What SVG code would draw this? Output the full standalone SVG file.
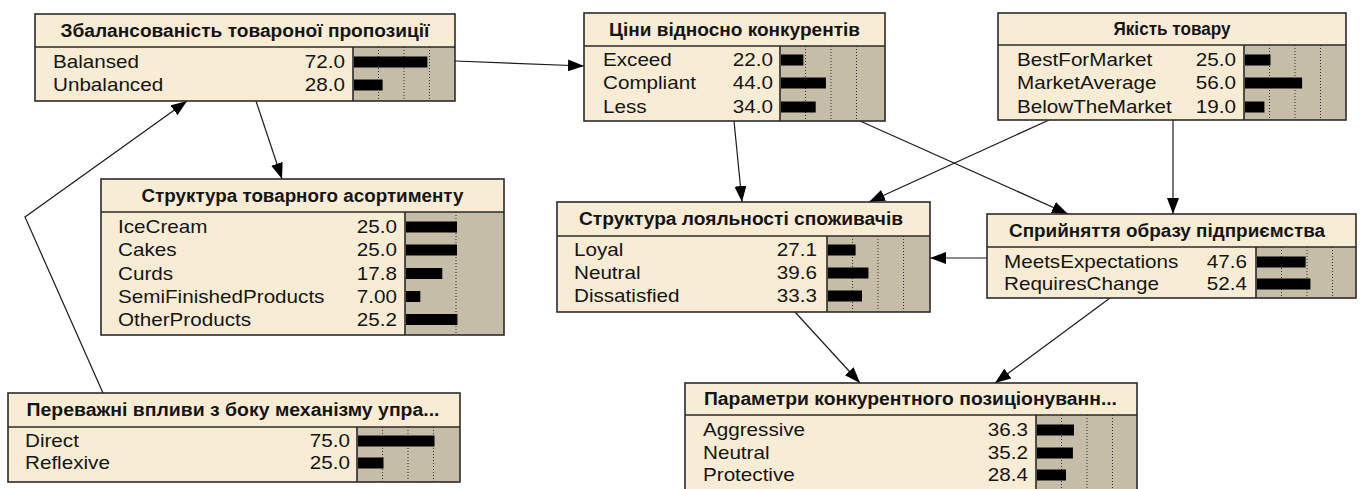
<svg xmlns="http://www.w3.org/2000/svg" width="1360" height="489" viewBox="0 0 1360 489">
<defs>
<style>
.bg{fill:#F8EDD4}
.gr{fill:#C6BDA8}
.ol{fill:none;stroke:#2b2b2b;stroke-width:1.6}
.sp{stroke:#2b2b2b;stroke-width:1.6}
.dt{stroke:#333;stroke-width:1;stroke-dasharray:1 2;fill:none}
.br{fill:#000}
.t{font-family:"Liberation Sans",Arial,sans-serif;font-size:17.5px;fill:#141414}
.n{text-anchor:end}
.h{font-weight:bold;text-anchor:middle}
.c{fill:none;stroke:#1a1a1a;stroke-width:1.2}
</style>
<marker id="ah" markerUnits="userSpaceOnUse" markerWidth="16" markerHeight="12" refX="16" refY="6" orient="auto">
<path d="M0,0 L16,6 L0,12 z" fill="#000"/>
</marker>
</defs>
<rect width="1360" height="489" fill="#fff"/>

<g id="connectors">
<path class="c" marker-end="url(#ah)" d="M455,61 L584,66"/>
<path class="c" marker-end="url(#ah)" d="M256,101 L282,179"/>
<path class="c" marker-end="url(#ah)" d="M103,393 L25,217 L187,101"/>
<path class="c" marker-end="url(#ah)" d="M734,121 L742,202"/>
<path class="c" marker-end="url(#ah)" d="M860,121 L1068,214"/>
<path class="c" marker-end="url(#ah)" d="M1049,120 L869,202"/>
<path class="c" marker-end="url(#ah)" d="M1173,120 L1173,214"/>
<path class="c" marker-end="url(#ah)" d="M987,258 L930,258"/>
<path class="c" marker-end="url(#ah)" d="M795,312 L860,383"/>
<path class="c" marker-end="url(#ah)" d="M1110,298 L995,383"/>
</g>

<g id="n1">
<rect class="bg" x="35" y="14" width="420" height="87"/>
<rect class="gr" x="353" y="47" width="102" height="54"/>
<path class="dt" d="M378.5,47V101M404,47V101M429.5,47V101"/>
<rect class="br" x="354" y="56.5" width="73.4" height="11"/>
<rect class="br" x="354" y="79.5" width="28.6" height="11"/>
<text class="t h" x="245" y="37" textLength="369" lengthAdjust="spacingAndGlyphs">Збалансованість товароної пропозиції</text>
<text class="t" transform="translate(53 68) scale(1.18 1)">Balansed</text>
<text class="t n" transform="translate(345 68) scale(1.18 1)">72.0</text>
<text class="t" transform="translate(53 91) scale(1.18 1)">Unbalanced</text>
<text class="t n" transform="translate(345 91) scale(1.18 1)">28.0</text>
<rect class="ol" x="35" y="14" width="420" height="87"/>
<path class="sp" d="M35,47H455M353,47V101"/>
</g>

<g id="n2">
<rect class="bg" x="584" y="13" width="301" height="108"/>
<rect class="gr" x="780" y="46" width="105" height="75"/>
<path class="dt" d="M805.5,46V121M831,46V121M856.5,46V121"/>
<rect class="br" x="781" y="54.5" width="22.4" height="11"/>
<rect class="br" x="781" y="77.5" width="44.9" height="11"/>
<rect class="br" x="781" y="101.5" width="34.7" height="11"/>
<text class="t h" x="734.5" y="36" textLength="251" lengthAdjust="spacingAndGlyphs">Ціни відносно конкурентів</text>
<text class="t" transform="translate(603 66) scale(1.18 1)">Exceed</text>
<text class="t n" transform="translate(773 66) scale(1.18 1)">22.0</text>
<text class="t" transform="translate(603 89) scale(1.18 1)">Compliant</text>
<text class="t n" transform="translate(773 89) scale(1.18 1)">44.0</text>
<text class="t" transform="translate(603 113) scale(1.18 1)">Less</text>
<text class="t n" transform="translate(773 113) scale(1.18 1)">34.0</text>
<rect class="ol" x="584" y="13" width="301" height="108"/>
<path class="sp" d="M584,46H885M780,46V121"/>
</g>

<g id="n3">
<rect class="bg" x="998" y="13" width="348" height="107"/>
<rect class="gr" x="1244" y="45" width="102" height="75"/>
<path class="dt" d="M1269.5,45V120M1295,45V120M1320.5,45V120"/>
<rect class="br" x="1245" y="54.5" width="25.5" height="11"/>
<rect class="br" x="1245" y="77.5" width="57.1" height="11"/>
<rect class="br" x="1245" y="101.5" width="19.4" height="11"/>
<text class="t h" x="1172" y="35" textLength="117" lengthAdjust="spacingAndGlyphs">Якість товару</text>
<text class="t" transform="translate(1017 66) scale(1.18 1)">BestForMarket</text>
<text class="t n" transform="translate(1236 66) scale(1.18 1)">25.0</text>
<text class="t" transform="translate(1017 89) scale(1.18 1)">MarketAverage</text>
<text class="t n" transform="translate(1236 89) scale(1.18 1)">56.0</text>
<text class="t" transform="translate(1017 113) scale(1.18 1)">BelowTheMarket</text>
<text class="t n" transform="translate(1236 113) scale(1.18 1)">19.0</text>
<rect class="ol" x="998" y="13" width="348" height="107"/>
<path class="sp" d="M998,45H1346M1244,45V120"/>
</g>

<g id="n4">
<rect class="bg" x="101" y="179" width="403" height="156"/>
<rect class="gr" x="405" y="212" width="99" height="123"/>
<path class="dt" d="M456,212V335"/>
<rect class="br" x="406" y="221.5" width="51" height="11"/>
<rect class="br" x="406" y="244.5" width="51" height="11"/>
<rect class="br" x="406" y="268" width="36.3" height="11"/>
<rect class="br" x="406" y="291" width="14.3" height="11"/>
<rect class="br" x="406" y="314" width="51.4" height="11"/>
<text class="t h" x="302.5" y="202" textLength="322" lengthAdjust="spacingAndGlyphs">Структура товарного асортименту</text>
<text class="t" transform="translate(118 233) scale(1.18 1)">IceCream</text>
<text class="t n" transform="translate(397 233) scale(1.18 1)">25.0</text>
<text class="t" transform="translate(118 256) scale(1.18 1)">Cakes</text>
<text class="t n" transform="translate(397 256) scale(1.18 1)">25.0</text>
<text class="t" transform="translate(118 279.5) scale(1.18 1)">Curds</text>
<text class="t n" transform="translate(397 279.5) scale(1.18 1)">17.8</text>
<text class="t" transform="translate(118 302.5) scale(1.18 1)">SemiFinishedProducts</text>
<text class="t n" transform="translate(397 302.5) scale(1.18 1)">7.00</text>
<text class="t" transform="translate(118 325.5) scale(1.18 1)">OtherProducts</text>
<text class="t n" transform="translate(397 325.5) scale(1.18 1)">25.2</text>
<rect class="ol" x="101" y="179" width="403" height="156"/>
<path class="sp" d="M101,212H504M405,212V335"/>
</g>

<g id="n5">
<rect class="bg" x="557" y="202" width="373" height="110"/>
<rect class="gr" x="827" y="236" width="103" height="76"/>
<path class="dt" d="M852.5,236V312M878,236V312M903.5,236V312"/>
<rect class="br" x="828" y="244.5" width="27.6" height="11"/>
<rect class="br" x="828" y="267.5" width="40.4" height="11"/>
<rect class="br" x="828" y="290.5" width="34" height="11"/>
<text class="t h" x="741" y="225" textLength="324" lengthAdjust="spacingAndGlyphs">Структура лояльності споживачів</text>
<text class="t" transform="translate(574 256) scale(1.18 1)">Loyal</text>
<text class="t n" transform="translate(817 256) scale(1.18 1)">27.1</text>
<text class="t" transform="translate(574 279) scale(1.18 1)">Neutral</text>
<text class="t n" transform="translate(817 279) scale(1.18 1)">39.6</text>
<text class="t" transform="translate(574 302) scale(1.18 1)">Dissatisfied</text>
<text class="t n" transform="translate(817 302) scale(1.18 1)">33.3</text>
<rect class="ol" x="557" y="202" width="373" height="110"/>
<path class="sp" d="M557,236H930M827,236V312"/>
</g>

<g id="n6">
<rect class="bg" x="987" y="214" width="369" height="84"/>
<rect class="gr" x="1256" y="247" width="100" height="51"/>
<path class="dt" d="M1281.5,247V298M1307,247V298M1332.5,247V298"/>
<rect class="br" x="1257" y="256.5" width="48.6" height="11"/>
<rect class="br" x="1257" y="278.5" width="53.4" height="11"/>
<text class="t h" x="1167" y="237" textLength="316" lengthAdjust="spacingAndGlyphs">Сприйняття образу підприємства</text>
<text class="t" transform="translate(1004 268) scale(1.18 1)">MeetsExpectations</text>
<text class="t n" transform="translate(1247 268) scale(1.18 1)">47.6</text>
<text class="t" transform="translate(1004 290) scale(1.18 1)">RequiresChange</text>
<text class="t n" transform="translate(1247 290) scale(1.18 1)">52.4</text>
<rect class="ol" x="987" y="214" width="369" height="84"/>
<path class="sp" d="M987,247H1356M1256,247V298"/>
</g>

<g id="n7">
<rect class="bg" x="8" y="393" width="452" height="89"/>
<rect class="gr" x="357" y="427" width="103" height="55"/>
<path class="dt" d="M382.5,427V482M408,427V482M433.5,427V482"/>
<rect class="br" x="358" y="435.5" width="76.5" height="11"/>
<rect class="br" x="358" y="457.5" width="25.5" height="11"/>
<text class="t h" x="233" y="416" textLength="413" lengthAdjust="spacingAndGlyphs">Переважні впливи з боку механізму упра...</text>
<text class="t" transform="translate(25 447) scale(1.18 1)">Direct</text>
<text class="t n" transform="translate(350 447) scale(1.18 1)">75.0</text>
<text class="t" transform="translate(25 469) scale(1.18 1)">Reflexive</text>
<text class="t n" transform="translate(350 469) scale(1.18 1)">25.0</text>
<rect class="ol" x="8" y="393" width="452" height="89"/>
<path class="sp" d="M8,427H460M357,427V482"/>
</g>

<g id="n8">
<rect class="bg" x="685" y="383" width="452" height="120"/>
<rect class="gr" x="1036" y="415" width="101" height="88"/>
<path class="dt" d="M1061.5,415V503M1087,415V503M1112.5,415V503"/>
<rect class="br" x="1037" y="424.5" width="37" height="11"/>
<rect class="br" x="1037" y="447.5" width="35.9" height="11"/>
<rect class="br" x="1037" y="469.5" width="29" height="11"/>
<text class="t h" x="910.5" y="405" textLength="413" lengthAdjust="spacingAndGlyphs">Параметри конкурентного позиціонуванн...</text>
<text class="t" transform="translate(703 436) scale(1.18 1)">Aggressive</text>
<text class="t n" transform="translate(1028 436) scale(1.18 1)">36.3</text>
<text class="t" transform="translate(703 459) scale(1.18 1)">Neutral</text>
<text class="t n" transform="translate(1028 459) scale(1.18 1)">35.2</text>
<text class="t" transform="translate(703 481) scale(1.18 1)">Protective</text>
<text class="t n" transform="translate(1028 481) scale(1.18 1)">28.4</text>
<rect class="ol" x="685" y="383" width="452" height="120"/>
<path class="sp" d="M685,415H1137M1036,415V503"/>
</g>
</svg>
